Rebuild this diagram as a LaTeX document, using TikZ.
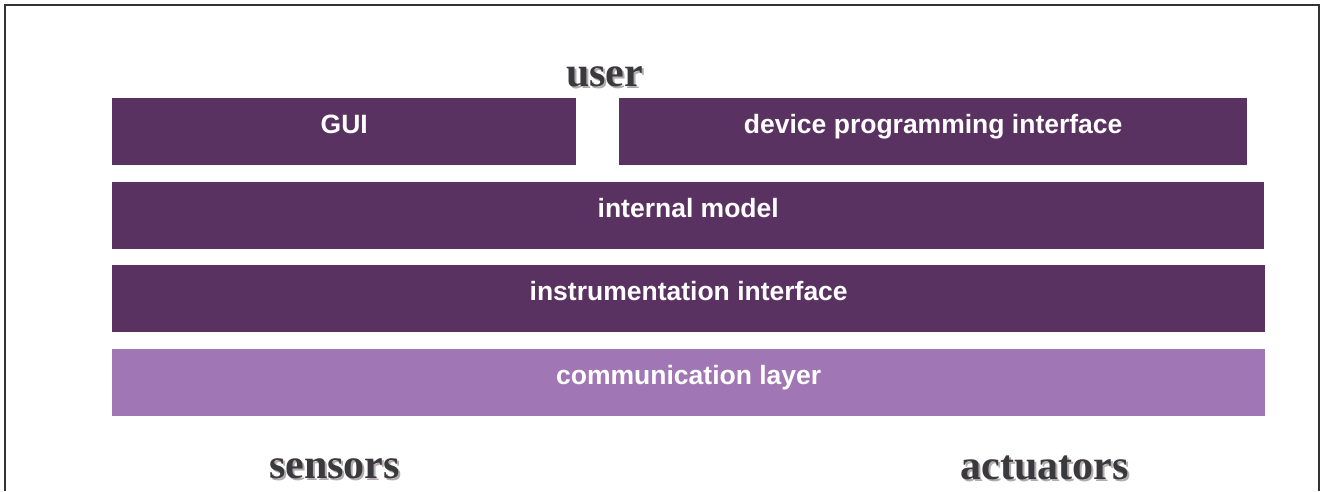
\documentclass[tikz,border=0pt]{standalone}
\usepackage{fontspec}
\setmainfont{Liberation Serif}
\newfontfamily\boxfont{Liberation Sans}
\definecolor{layerdark}{HTML}{5A3262}
\definecolor{layerlight}{HTML}{A077B4}
\definecolor{framegray}{HTML}{333333}
\definecolor{titleink}{HTML}{3A3A3E}
\definecolor{titleshade}{HTML}{B3ABAB}
\tikzset{
  layer/.style={draw=none, fill=layerdark, anchor=north west, inner sep=0pt,
    minimum height=67pt},
  lightlayer/.style={layer, fill=layerlight},
  layertext/.style={anchor=base, inner sep=0pt, text=white,
    font=\boxfont\bfseries\fontsize{26.5}{31}\selectfont},
  titletext/.style={anchor=base, inner sep=0pt, text=titleink,
    font=\bfseries\fontsize{42}{48}\selectfont},
  titleshadow/.style={titletext, text=titleshade},
}
\begin{document}
\begin{tikzpicture}[x=1pt, y=-1pt]
  \useasboundingbox (0,0) rectangle (1321,491);
  % outer frame, open at the bottom
  \draw[framegray, line width=2pt] (5,491) -- (5,5) -- (1319,5) -- (1319,491);

  % layer stack
  \node[layer, minimum width=464pt] (gui) at (112,98) {};
  \node[layer, minimum width=628pt] (dpi) at (619,98) {};
  \node[layer, minimum width=1152pt] (model) at (112,182) {};
  \node[layer, minimum width=1153pt] (instr) at (112,265) {};
  \node[lightlayer, minimum width=1153pt] (comm) at (112,349) {};

  \node[layertext] (guit) at ([yshift=-35pt]gui.north) {GUI};
  \node[layertext] (dpit) at ([yshift=-35pt]dpi.north) {device programming interface};
  \node[layertext] (modelt) at ([yshift=-35pt]model.north) {internal model};
  \node[layertext] (instrt) at ([yshift=-35pt]instr.north) {instrumentation interface};
  \node[layertext] (commt) at ([yshift=-35pt]comm.north) {communication layer};

  % headings with drop shadow
  \node[titleshadow] at (606.5,88) {user};
  \node[titletext] (user) at (604.5,86) {user};
  \node[titleshadow] at (336.5,480) {sensors};
  \node[titletext] (sensors) at (334.5,478) {sensors};
  \node[titleshadow] at (1046.5,481) {actuators};
  \node[titletext] (actuators) at (1044.5,479) {actuators};
\end{tikzpicture}
\end{document}
